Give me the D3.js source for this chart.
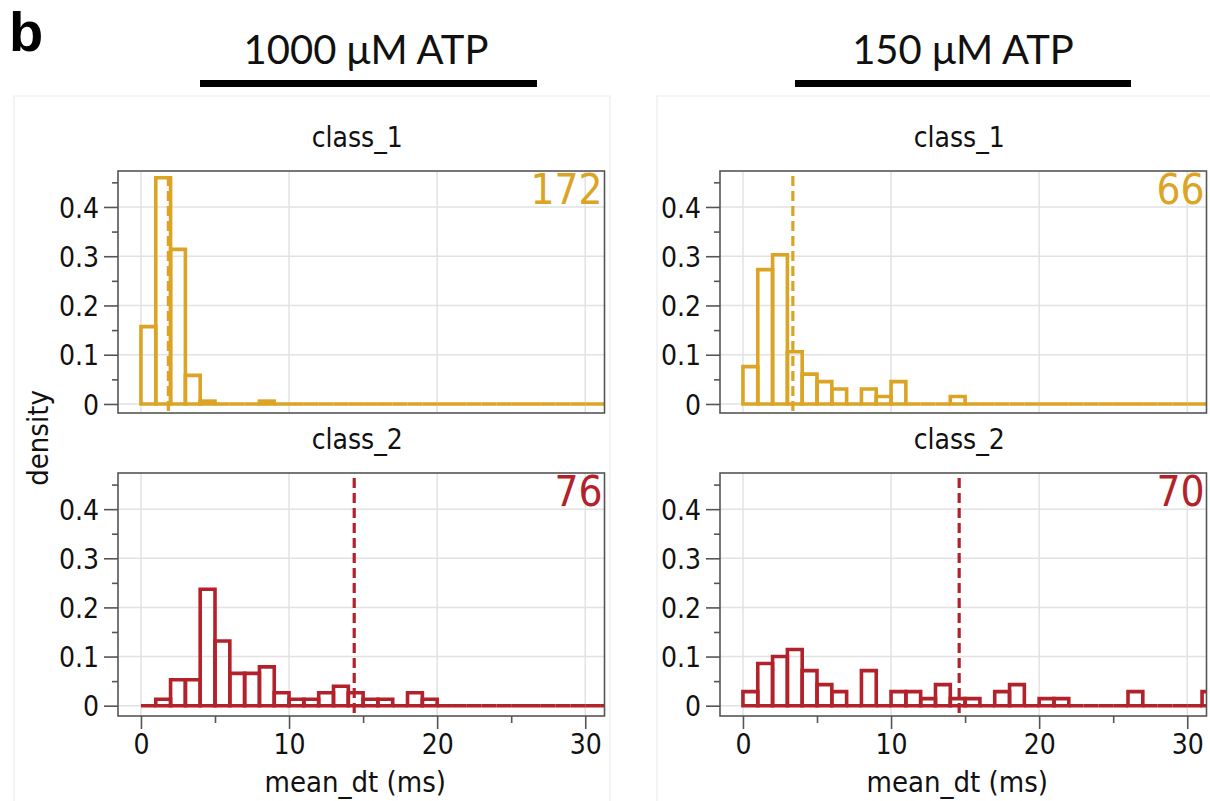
<!DOCTYPE html>
<html>
<head>
<meta charset="utf-8">
<script src="https://cdn.jsdelivr.net/npm/d3@7"></script>
<style>
  html, body { margin: 0; padding: 0; background: #fff; }
  svg { display: block; }
  .tk { font-family: "DejaVu Sans Condensed", "DejaVu Sans", sans-serif; font-stretch: condensed; fill: #111; }
  .ttl { font-family: Lato, "Open Sans", sans-serif; fill: #111; }
</style>
</head>
<body>
<svg id="chart" width="1210" height="801"></svg>
<script>
// Histogram of mean dwell time per class, two ATP conditions
const conditions = ["1000 μM ATP", "150 μM ATP"];
const classes = ["class_1", "class_2"];
const classColors = ["#dca425", "#b3222a"];

// counts per 1-ms bin, starting at 0 ms
const counts_1000_class1 = [27, 79, 54, 10, 1, 0, 0, 0, 1];
const counts_1000_class2 = [0, 1, 4, 4, 18, 10, 5, 5, 6, 2, 1, 1, 2, 3, 2, 1, 1, 0, 2, 1];
const counts_150_class1 = [5, 18, 20, 7, 4, 3, 2, 0, 2, 1, 3, 0, 0, 0, 1];
const counts_150_class2 = [2, 6, 7, 8, 5, 3, 2, 0, 5, 0, 2, 2, 1, 3, 1, 1, 0, 2, 3, 0, 1, 1, 0, 0, 0, 0, 2, 0, 0, 0, 0, 2];

// number of molecules per panel
const totals = [[172, 76], [66, 70]];
// mean dwell time (ms) per panel
const means = [[1.85, 14.4], [3.37, 14.6]];

const binWidth = 1;
const nBins = 34;
const xTicks = [0, 10, 20, 30];
const xMinor = [5, 15, 25];
const yTicks = [0, 0.1, 0.2, 0.3, 0.4];
const yMinor = [0.05, 0.15, 0.25, 0.35, 0.45];

const panelCounts = [[counts_1000_class1, counts_1000_class2], [counts_150_class1, counts_150_class2]];

const svg = d3.select("#chart");

// panel label
svg.append("text").attr("x", 9).attr("y", 51)
  .style("font-family", "'Liberation Sans', Arial, sans-serif")
  .style("font-weight", "bold").style("font-size", "56px").text("b");

// light outlines around each column
svg.append("path").attr("d", "M14,801 V96 H610 V801")
  .attr("fill", "none").attr("stroke", "#ececec").attr("stroke-width", 1.2);
svg.append("path").attr("d", "M657,801 V96 H1212")
  .attr("fill", "none").attr("stroke", "#ececec").attr("stroke-width", 1.2);

const colShift = [0, 602];
const headerCenter = [366, 963];
const headerBar = [[200, 537], [795, 1131]];
const frameX = [118, 604.5];
const frameY = [[171, 413], [473, 716]];
const xDomain = [-1.55, 31.3];
const yDomains = [[-0.0183, 0.473], [-0.021, 0.4736]];

conditions.forEach((cond, ci) => {
  const dx = colShift[ci];

  // condition header with bar
  svg.append("text").attr("class", "ttl")
    .attr("x", headerCenter[ci]).attr("y", 64).attr("text-anchor", "middle")
    .style("font-size", "40px").text(cond);
  svg.append("rect").attr("x", headerBar[ci][0]).attr("y", 80)
    .attr("width", headerBar[ci][1] - headerBar[ci][0]).attr("height", 7).attr("fill", "#000");

  const g = svg.append("g").attr("transform", `translate(${dx},0)`);
  const x = d3.scaleLinear().domain(xDomain).range(frameX);

  classes.forEach((cls, ri) => {
    const [top, bottom] = frameY[ri];
    const y = d3.scaleLinear().domain(yDomains[ri]).range([bottom, top]);
    const color = classColors[ri];
    const n = totals[ci][ri];
    const cnt = panelCounts[ci][ri];
    const bins = d3.range(nBins).map(i => ({ x0: i * binWidth, x1: (i + 1) * binWidth, d: (cnt[i] || 0) / n }));

    const p = g.append("g");
    const clipId = `clip-${ci}-${ri}`;
    p.append("clipPath").attr("id", clipId).append("rect")
      .attr("x", frameX[0]).attr("y", top).attr("width", frameX[1] - frameX[0]).attr("height", bottom - top);

    // class title
    p.append("text").attr("class", "tk")
      .attr("x", (frameX[0] + frameX[1]) / 2 - 4).attr("y", top - 24)
      .attr("text-anchor", "middle").style("font-size", "28px").text(cls);

    // grid
    p.append("g").selectAll("line").data(xTicks).join("line")
      .attr("x1", d => x(d)).attr("x2", d => x(d)).attr("y1", top).attr("y2", bottom)
      .attr("stroke", "#e2e2e2").attr("stroke-width", 1.5);
    p.append("g").selectAll("line").data(yTicks).join("line")
      .attr("x1", frameX[0]).attr("x2", frameX[1]).attr("y1", d => y(d)).attr("y2", d => y(d))
      .attr("stroke", "#e2e2e2").attr("stroke-width", 1.5);

    // histogram outline: one closed box per bin (empty bins collapse to the baseline)
    p.append("g").attr("clip-path", `url(#${clipId})`)
      .selectAll("path").data(bins).join("path")
      .attr("d", d => `M${x(d.x0)},${y(0)}V${y(d.d)}H${x(d.x1)}V${y(0)}Z`)
      .attr("fill", "none").attr("stroke", color).attr("stroke-width", 3.6)
      .attr("stroke-linejoin", "miter");

    // mean marker
    p.append("line")
      .attr("x1", x(means[ci][ri])).attr("x2", x(means[ci][ri]))
      .attr("y1", top + 5).attr("y2", bottom + 2)
      .attr("stroke", color).attr("stroke-width", 3.2).attr("stroke-dasharray", "10,5");

    // frame
    p.append("rect").attr("x", frameX[0]).attr("y", top)
      .attr("width", frameX[1] - frameX[0]).attr("height", bottom - top)
      .attr("fill", "none").attr("stroke", "#555").attr("stroke-width", 1.6);

    // y axis
    const yAxis = p.append("g").attr("transform", `translate(${frameX[0]},0)`)
      .call(d3.axisLeft(y).tickValues(yTicks).tickSize(14).tickPadding(5)
        .tickFormat(d => d === 0 ? "0" : d3.format(".1f")(d)));
    yAxis.select(".domain").remove();
    yAxis.selectAll(".tick line").attr("stroke", "#555").attr("stroke-width", 1.6);
    yAxis.selectAll(".tick text").attr("class", "tk").style("font-size", "28px").attr("dy", "0.36em");
    const yMin = p.append("g").attr("transform", `translate(${frameX[0]},0)`)
      .call(d3.axisLeft(y).tickValues(yMinor).tickSize(6).tickFormat(""));
    yMin.select(".domain").remove();
    yMin.selectAll(".tick line").attr("stroke", "#555").attr("stroke-width", 1.6);

    // panel count
    p.append("text").attr("class", "tk")
      .attr("x", frameX[1] - 2).attr("y", top + 33).attr("text-anchor", "end")
      .style("font-size", "42px").style("fill", color).text(n);

    if (ri === 1) {
      const xAxis = p.append("g").attr("transform", `translate(0,${bottom})`)
        .call(d3.axisBottom(x).tickValues(xTicks).tickSize(13).tickPadding(5).tickFormat(d3.format("d")));
      xAxis.select(".domain").remove();
      xAxis.selectAll(".tick line").attr("stroke", "#555").attr("stroke-width", 1.6);
      xAxis.selectAll(".tick text").attr("class", "tk").style("font-size", "28px");
      const xMin = p.append("g").attr("transform", `translate(0,${bottom})`)
        .call(d3.axisBottom(x).tickValues(xMinor).tickSize(7).tickFormat(""));
      xMin.select(".domain").remove();
      xMin.selectAll(".tick line").attr("stroke", "#555").attr("stroke-width", 1.6);

      p.append("text").attr("class", "tk")
        .attr("x", (frameX[0] + frameX[1]) / 2 - 6).attr("y", 792)
        .attr("text-anchor", "middle").style("font-size", "29px").text("mean_dt (ms)");
    }
  });

  if (ci === 0) {
    g.append("text").attr("class", "tk")
      .attr("transform", "translate(48,438) rotate(-90)")
      .attr("text-anchor", "middle").style("font-size", "29px").text("density");
  }
});
</script>
</body>
</html>
